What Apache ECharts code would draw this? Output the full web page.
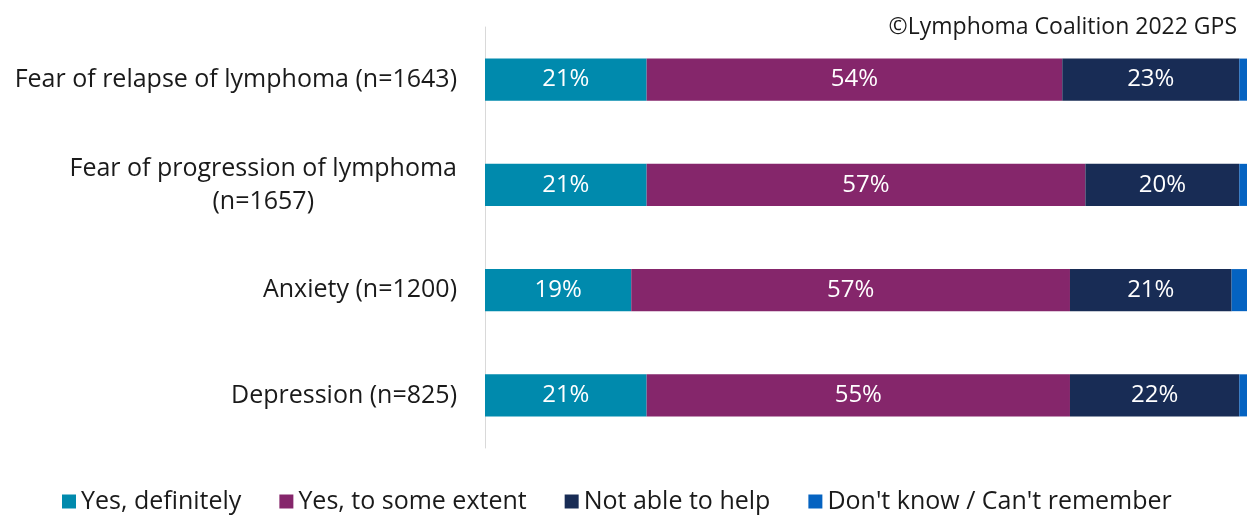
<!DOCTYPE html>
<html>
<head>
<meta charset="utf-8">
<title>Lymphoma GPS 2022</title>
<script src="https://cdn.jsdelivr.net/npm/echarts@6/dist/echarts.min.js"></script>
<style>
  html, body { margin: 0; padding: 0; background: #ffffff; }
  #chart { width: 1247px; height: 516px; }
</style>
</head>
<body>
<div id="chart"></div>
<script>
// Survey topics (top to bottom)
const categories = [
  'Fear of relapse of lymphoma (n=1643)',
  'Fear of progression of lymphoma\n(n=1657)',
  'Anxiety (n=1200)',
  'Depression (n=825)'
];

// Percentage of respondents per answer
const yesDefinitely = [21, 21, 19, 21];
const yesSomeExtent = [54, 57, 57, 55];
const notAbleToHelp = [23, 20, 21, 22];
const dontKnow = [2, 2, 3, 2];

const seriesNames = ['Yes, definitely', 'Yes, to some extent', 'Not able to help', "Don't know / Can't remember"];
const seriesColors = ['#008AAD', '#85266B', '#182C55', '#0563C1'];
const seriesData = [yesDefinitely, yesSomeExtent, notAbleToHelp, dontKnow];

const FONT = '"Open Sans", sans-serif';

const chart = echarts.init(document.getElementById('chart'), null, { renderer: 'canvas' });

chart.setOption({
  animation: false,
  backgroundColor: '#ffffff',
  textStyle: { fontFamily: FONT },
  title: {
    text: '©Lymphoma Coalition 2022 GPS',
    right: 5,
    top: 11,
    textStyle: { fontFamily: FONT, fontSize: 23, fontWeight: 'normal', color: '#1a1a1a' }
  },
  legend: {
    bottom: -3,
    left: 57,
    itemWidth: 14,
    itemHeight: 14,
    itemGap: 38,
    icon: 'rect',
    textStyle: { fontFamily: FONT, fontSize: 25, color: '#1a1a1a' },
    data: seriesNames
  },
  grid: { left: 485, right: 0, top: 27, bottom: 68, containLabel: false },
  // the right end of the 100% stack runs just past the plotting area
  xAxis: {
    type: 'value',
    min: 0,
    max: 99,
    show: false
  },
  yAxis: {
    type: 'category',
    inverse: true,
    data: categories,
    axisLine: { show: true, lineStyle: { color: '#D9D9D9', width: 1 } },
    axisTick: { show: false },
    axisLabel: {
      margin: 28,
      fontFamily: FONT,
      fontSize: 25,
      color: '#1a1a1a',
      lineHeight: 33,
      formatter: function (v) {
        return v.split('\n').map(function (line) { return '{c|' + line + '}'; }).join('\n');
      },
      rich: {
        c: { align: 'center', fontFamily: FONT, fontSize: 25, color: '#1a1a1a', lineHeight: 33 }
      }
    }
  },
  series: seriesData.map(function (d, i) {
    return {
      name: seriesNames[i],
      type: 'bar',
      stack: 'total',
      barWidth: '40%',
      data: d,
      itemStyle: { color: seriesColors[i] },
      label: {
        show: i < 3,
        position: 'inside',
        formatter: '{c}%',
        color: '#ffffff',
        fontFamily: FONT,
        fontSize: 24
      }
    };
  })
});
</script>
</body>
</html>
